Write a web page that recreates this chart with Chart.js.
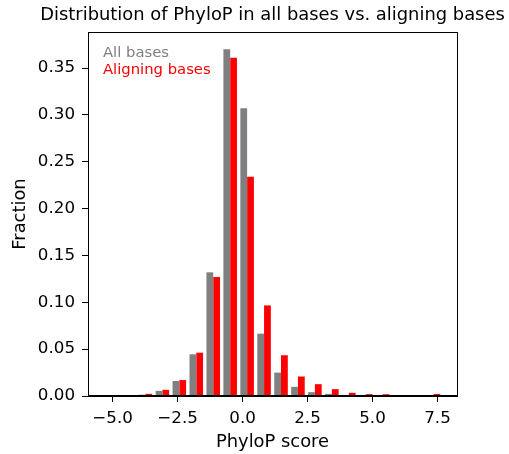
<!DOCTYPE html>
<html>
<head>
<meta charset="utf-8">
<script src="https://cdn.jsdelivr.net/npm/chart.js@4.4.1/dist/chart.umd.min.js"></script>
<style>
  html, body { margin: 0; padding: 0; background: #fff; }
</style>
</head>
<body>
<canvas id="phylop" width="509" height="454"></canvas>
<script>
// histogram bin centres (PhyloP score)
const binCenters = [
  -5.040, -4.388, -3.736, -3.084, -2.432, -1.780, -1.128, -0.476, 0.176, 0.828,
  1.480, 2.132, 2.784, 3.436, 4.088, 4.740, 5.392, 6.044, 6.696, 7.348,
];
const allBases = [
  0.0001, 0.0002, 0.0014, 0.0055, 0.0160, 0.0445, 0.1320, 0.3700, 0.3070, 0.0665,
  0.0250, 0.0098, 0.0041, 0.0023, 0.0010, 0.0005, 0.0004, 0.0002, 0.0001, 0.0001,
];
const aligningBases = [
  0.0001, 0.0003, 0.0023, 0.0066, 0.0170, 0.0462, 0.1270, 0.3610, 0.2340, 0.0967,
  0.0435, 0.0208, 0.0126, 0.0073, 0.0034, 0.0020, 0.0019, 0.0009, 0.0009, 0.0022,
];
const xTickValues = [-5, -2.5, 0, 2.5, 5, 7.5];
const yTickValues = [0, 0.05, 0.1, 0.15, 0.2, 0.25, 0.3, 0.35];

const FONT = "DejaVu Sans";
const fmtX = (v) => (v < 0 ? "\u2212" : "") + Math.abs(v).toFixed(1);

// title, legend text and the closed box around the axes
const frameAndText = {
  id: "frameAndText",
  afterDatasetsDraw(chart) {
    const { ctx, chartArea: a } = chart;
    ctx.save();
    ctx.strokeStyle = "#000";
    ctx.lineWidth = 1;
    ctx.strokeRect(Math.round(a.left) + 0.5, Math.round(a.top) + 0.5,
      Math.round(a.right - a.left), Math.round(a.bottom - a.top) - 1);

    ctx.textBaseline = "alphabetic";
    ctx.textAlign = "center";
    ctx.fillStyle = "#000";
    ctx.font = `17.9px "${FONT}"`;
    ctx.fillText("Distribution of PhyloP in all bases vs. aligning bases", (a.left + a.right) / 2, 20);

    ctx.textAlign = "left";
    ctx.font = `14.8px "${FONT}"`;
    ctx.fillStyle = "#808080";
    ctx.fillText("All bases", a.left + 15, 56.7);
    ctx.fillStyle = "#ff0000";
    ctx.fillText("Aligning bases", a.left + 15, 73.7);
    ctx.restore();
  },
};

const ctx = document.getElementById("phylop");
new Chart(ctx, {
  type: "bar",
  data: {
    datasets: [
      {
        label: "All bases",
        data: binCenters.map((x, i) => ({ x, y: allBases[i] })),
        backgroundColor: "#808080",
        borderWidth: 0,
      },
      {
        label: "Aligning bases",
        data: binCenters.map((x, i) => ({ x, y: aligningBases[i] })),
        backgroundColor: "#ff0000",
        borderWidth: 0,
      },
    ],
  },
  options: {
    responsive: false,
    animation: false,
    layout: { padding: { left: 0, right: 52, top: 32, bottom: 0 } },
    categoryPercentage: 0.8,
    barPercentage: 1.0,
    plugins: {
      legend: { display: false },
      tooltip: { enabled: false },
      title: { display: false },
    },
    scales: {
      x: {
        type: "linear",
        min: -5.946,
        max: 8.251,
        offset: false,
        grid: { display: true, drawOnChartArea: false, drawTicks: true, tickLength: 6, tickColor: "#000", offset: false },
        border: { display: true, color: "#000", width: 1 },
        ticks: {
          color: "#000",
          font: { family: FONT, size: 16.7 },
          padding: 7,
          maxRotation: 0,
          autoSkip: false,
          callback: (v) => fmtX(v),
        },
        afterBuildTicks: (s) => { s.ticks = xTickValues.map((v) => ({ value: v })); },
        afterFit: (s) => { s.height = 58; },
        title: {
          display: true,
          text: "PhyloP score",
          color: "#000",
          font: { family: FONT, size: 17.9 },
          padding: { top: 0, bottom: 0.8 },
        },
      },
      y: {
        min: 0,
        max: 0.3885,
        grid: { display: true, drawOnChartArea: false, drawTicks: true, tickLength: 6, tickColor: "#000" },
        border: { display: true, color: "#000", width: 1 },
        ticks: {
          color: "#000",
          font: { family: FONT, size: 16.7 },
          padding: 7,
          callback: (v) => v.toFixed(2),
        },
        afterBuildTicks: (s) => { s.ticks = yTickValues.map((v) => ({ value: v })); },
        afterFit: (s) => { s.width = 88; },
        title: {
          display: true,
          text: "Fraction",
          color: "#000",
          font: { family: FONT, size: 17.9 },
          padding: { top: 9.8, bottom: 0 },
        },
      },
    },
  },
  plugins: [frameAndText],
});
</script>
</body>
</html>
